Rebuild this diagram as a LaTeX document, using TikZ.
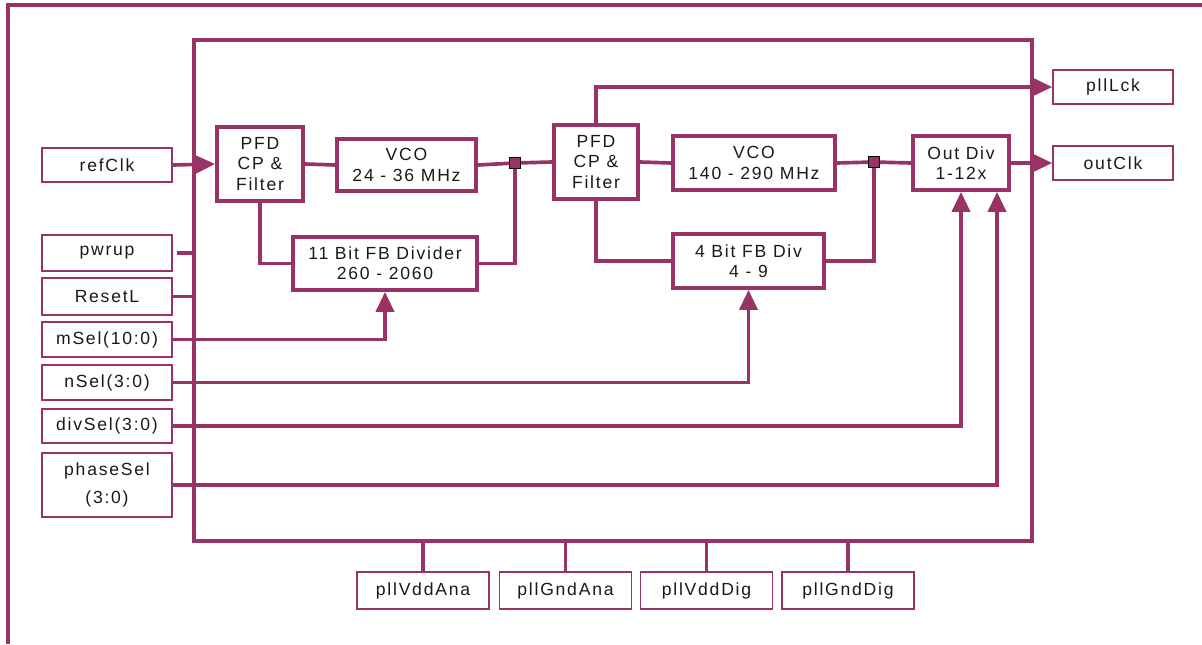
\documentclass[tikz,border=0pt]{standalone}
\usepackage{fontspec}
\setmainfont{Liberation Sans}[LetterSpace=10]
\usetikzlibrary{arrows.meta}
\definecolor{pllpurple}{RGB}{153,51,102}

\begin{document}
\begin{tikzpicture}[x=0.025cm, y=-0.025cm,
        every node/.style={font=\fontsize{12.5}{14.5}\selectfont, align=center, inner sep=0pt, text=black!90},
        block/.style={draw=pllpurple, line width=2.6pt},
        port/.style={draw=pllpurple, line width=1pt, minimum width=3.25cm, minimum height=0.875cm},
        wire/.style={draw=pllpurple, line width=2.6pt},
        sig/.style={wire, -{Triangle[length=0.5cm, width=0.45cm]}},
        junc/.style={draw=black, fill=pllpurple, line width=0.6pt, minimum size=0.275cm}]
    \useasboundingbox (0,0) rectangle (1202,644);
    \draw[pllpurple, line width=2.5pt] (8,644) -- (8,5) -- (1202,5);

    \node[block, minimum width=20.95cm, minimum height=12.525cm] (pll) at (613,290.5) {};

    \node[block, minimum width=2.15cm, minimum height=1.85cm] (pfdA) at (260,164) {PFD\\CP \&\\Filter};
    \node[block, minimum width=3.475cm, minimum height=1.3cm] (vcoA) at (406.5,165) {VCO\\24 - 36 MHz};
    \node[block, minimum width=4.6cm, minimum height=1.325cm] (fbdivA) at (385,263.5) {11 Bit FB Divider\\260 - 2060};
    \node[block, minimum width=2.1cm, minimum height=1.85cm] (pfdB) at (596,162) {PFD\\CP \&\\Filter};
    \node[block, minimum width=4.05cm, minimum height=1.35cm] (vcoB) at (754,163) {VCO\\140 - 290 MHz};
    \node[block, minimum width=3.775cm, minimum height=1.35cm] (fbdivB) at (748.5,261) {4 Bit FB Div\\4 - 9};
    \node[block, minimum width=2.4cm, minimum height=1.35cm] (outdiv) at (961,163) {Out Div\\1-12x};
    \node[junc] (jA) at (515,163) {};
    \node[junc] (jB) at (874,162) {};

    \node[port, minimum height=0.85cm] (refclk) at (107,165) {refClk};
    \node[port, minimum height=0.9cm] (pwrup) at (107,253) {pwrup};
    \node[port, minimum height=0.925cm] (resetl) at (107,296.5) {ResetL};
    \node[port] (msel) at (107,339.5) {mSel(10:0)};
    \node[port] (nsel) at (107,382.5) {nSel(3:0)};
    \node[port, minimum height=0.85cm] (divsel) at (107,426) {divSel(3:0)};
    \node[port, minimum height=1.6cm] (phasesel) at (107,485) {phaseSel\\[6pt](3:0)};

    \node[port, minimum width=3cm, minimum height=0.85cm] (plllck) at (1113,87) {pllLck};
    \node[port, minimum width=3cm, minimum height=0.85cm] (outclk) at (1113,163) {outClk};

    \node[port, minimum width=3.3cm, minimum height=0.925cm] (vddana) at (423,590.5) {pllVddAna};
    \node[port, minimum width=3.3cm, minimum height=0.925cm] (gndana) at (565.5,590.5) {pllGndAna};
    \node[port, minimum width=3.3cm, minimum height=0.925cm] (vdddig) at (706.5,590.5) {pllVddDig};
    \node[port, minimum width=3.3cm, minimum height=0.925cm] (gnddig) at (848,590.5) {pllGndDig};

    \draw[sig] (refclk.east) -- (pfdA.west);
    \draw[wire] ([xshift=3pt]pwrup.east) -- (pwrup.east -| pll.west);
    \draw[wire] (resetl.east) -- (resetl.east -| pll.west);
    \draw[sig] (msel.east) -| (fbdivA.south);
    \draw[sig] (nsel.east) -| (fbdivB.south);
    \draw[sig] (divsel.east) -| (outdiv.south);
    \draw[sig] (phasesel.east) -| ([xshift=0.9cm]outdiv.south);

    \draw[wire] (pfdA.east) -- (vcoA.west);
    \draw[wire] (vcoA.east) -- (jA);
    \draw[wire] (jA) -- (pfdB.west);
    \draw[wire] (pfdA.south) |- (fbdivA.west);
    \draw[wire] (fbdivA.east) -| (jA);
    \draw[wire] (pfdB.east) -- (vcoB.west);
    \draw[wire] (vcoB.east) -- (jB);
    \draw[wire] (jB) -- (outdiv.west);
    \draw[wire] (pfdB.south) |- (fbdivB.west);
    \draw[wire] (fbdivB.east) -| (jB);
    \draw[sig] (pfdB.north) |- (plllck.west);
    \draw[sig] (outdiv.east) -- (outclk.west);

    \draw[wire] (vddana.north) -- (vddana.north |- pll.south);
    \draw[wire] (gndana.north) -- (gndana.north |- pll.south);
    \draw[wire] (vdddig.north) -- (vdddig.north |- pll.south);
    \draw[wire] (gnddig.north) -- (gnddig.north |- pll.south);
\end{tikzpicture}
\end{document}
